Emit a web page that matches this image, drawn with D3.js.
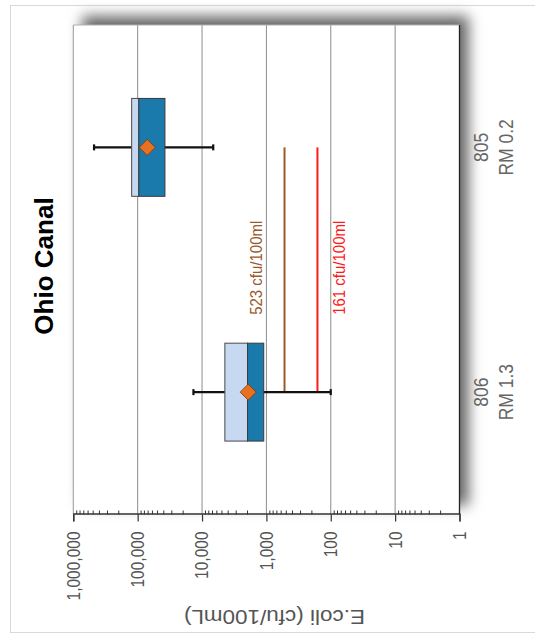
<!DOCTYPE html>
<html>
<head>
<meta charset="utf-8">
<script src="https://cdn.jsdelivr.net/npm/d3@7"></script>
<style>
  body { margin: 0; background: #fff; }
  svg { display: block; font-family: "Liberation Sans", Arial, sans-serif; }
</style>
</head>
<body>
<div id="app"></div>
<script>
// Sites along the x axis (chart is drawn upright, then turned on its side)
const sites = ["806", "805"];
const riverMiles = ["RM 1.3", "RM 0.2"];

// Box plot values, E.coli cfu/100mL
const maxVals = [13600, 476000];
const q3Vals = [4420, 124000];
const medians = [1960, 96000];
const q1Vals = [1100, 37700];
const minVals = [100, 6700];
const means = [1920, 71000];

// Recreation criteria lines
const criteria = [523, 161];
const criteriaLabels = ["523 cfu/100ml", "161 cfu/100ml"];
const criteriaColors = ["#9a5a2c", "#ff1a1a"];

// Axis ticks
const majorTicks = [1, 10, 100, 1000, 10000, 100000, 1000000];

const W = 535, H = 634;

const svg = d3.select("#app")
  .append("svg")
  .attr("width", W)
  .attr("height", H);

// outer frame
svg.append("rect")
  .attr("x", 10.5).attr("y", 5.5)
  .attr("width", W - 10).attr("height", H - 7)
  .attr("fill", "none")
  .attr("stroke", "#d9d9d9");

// drop shadow filter
const defs = svg.append("defs");
const f = defs.append("filter").attr("id", "shadow")
  .attr("x", "-10%").attr("y", "-10%").attr("width", "130%").attr("height", "130%");
f.append("feDropShadow")
  .attr("dx", 9).attr("dy", 9)
  .attr("stdDeviation", 7)
  .attr("flood-color", "#000")
  .attr("flood-opacity", 0.6);

// the whole chart is drawn upright in "inner" space and rotated -90deg
const g = svg.append("g").attr("transform", `translate(0,${H}) rotate(-90)`);

const plot = { left: 119.5, right: 609, top: 73.3, bottom: 459.5 };

const x = d3.scaleBand()
  .domain(sites)
  .range([plot.left, plot.right])
  .padding(0);

const y = d3.scaleLog()
  .domain([1, 1000000])
  .range([plot.bottom, plot.top]);

// plot background with shadow
g.append("rect")
  .attr("x", plot.left).attr("y", plot.top)
  .attr("width", plot.right - plot.left)
  .attr("height", plot.bottom - plot.top)
  .attr("fill", "#fff")
  .attr("filter", "url(#shadow)");

// gridlines
g.append("g")
  .selectAll("line")
  .data(majorTicks.slice(1, -1))
  .join("line")
  .attr("x1", plot.left).attr("x2", plot.right)
  .attr("y1", (d) => y(d)).attr("y2", (d) => y(d))
  .attr("stroke", "#8c8c8c")
  .attr("stroke-width", 1);

// plot border
g.append("line")
  .attr("x1", plot.left).attr("x2", plot.right)
  .attr("y1", plot.top).attr("y2", plot.top)
  .attr("stroke", "#9a9a9a");
g.append("line")
  .attr("x1", plot.right).attr("x2", plot.right)
  .attr("y1", plot.top).attr("y2", plot.bottom)
  .attr("stroke", "#b0b0b0");
g.append("line")
  .attr("x1", plot.left).attr("x2", plot.right)
  .attr("y1", plot.bottom).attr("y2", plot.bottom)
  .attr("stroke", "#222")
  .attr("stroke-width", 1.3);

// minor ticks (inside)
const minorTicks = [];
majorTicks.slice(0, -1).forEach((m) => {
  for (let k = 2; k <= 9; k++) minorTicks.push(m * k);
});

g.append("g")
  .attr("transform", `translate(${plot.left},0)`)
  .call(d3.axisLeft(y).tickValues(minorTicks).tickSize(-4).tickFormat(""))
  .call((a) => a.select(".domain").remove())
  .call((a) => a.selectAll(".tick line").attr("stroke", "#333"));

// major ticks + labels (text a bit stretched, like the source image)
g.append("g")
  .attr("transform", `translate(${plot.left},0)`)
  .call(
    d3.axisLeft(y)
      .tickValues(majorTicks)
      .tickSize(7)
      .tickPadding(10)
      .tickFormat(d3.format(","))
  )
  .call((a) => a.select(".domain").attr("stroke", "#333").attr("stroke-width", 1.3))
  .call((a) => a.selectAll(".tick line").attr("stroke", "#333").attr("stroke-width", 1.2))
  .call((a) =>
    a.selectAll(".tick text")
      .attr("font-size", 15.5)
      .attr("font-family", "Liberation Sans, Arial, sans-serif")
      .attr("fill", "#555")
      .attr("transform", "scale(1,1.2)")
  );

// axis title
g.append("text")
  .attr("transform", `translate(24,${(plot.top + plot.bottom) / 2 + 8}) rotate(-90)`)
  .attr("text-anchor", "middle")
  .attr("font-size", 19.5)
  .attr("textLength", 181)
  .attr("lengthAdjust", "spacingAndGlyphs")
  .attr("fill", "#555")
  .text("E.coli (cfu/100mL)");

// chart title
g.append("text")
  .attr("x", 368).attr("y", 53)
  .attr("text-anchor", "middle")
  .attr("font-size", 26)
  .attr("font-weight", "bold")
  .attr("fill", "#000")
  .text("Ohio Canal");

// category labels
const cats = g.append("g")
  .selectAll("text")
  .data(sites)
  .join("text")
  .attr("transform", (d) => `translate(${x(d) + x.bandwidth() / 2},488) scale(1,1.15)`)
  .attr("text-anchor", "middle")
  .attr("font-size", 17.5)
  .attr("fill", "#666");
cats.append("tspan")
  .attr("x", 0)
  .attr("y", 0)
  .text((d) => d);
cats.append("tspan")
  .attr("x", 0)
  .attr("y", 25 / 1.15)
  .text((d, i) => riverMiles[i]);

// criteria lines, from site 806 center to site 805 center
const cx0 = x(sites[0]) + x.bandwidth() / 2;
const cx1 = x(sites[1]) + x.bandwidth() / 2;

g.append("g")
  .selectAll("line")
  .data(criteria)
  .join("line")
  .attr("x1", cx0).attr("x2", cx1)
  .attr("y1", (d) => y(d)).attr("y2", (d) => y(d))
  .attr("stroke", (d, i) => criteriaColors[i])
  .attr("stroke-width", 2);

const labelY = [262, 345];
g.append("g")
  .selectAll("text")
  .data(criteriaLabels)
  .join("text")
  .attr("transform", (d, i) => `translate(${(cx0 + cx1) / 2 + 2},${labelY[i]}) scale(1,1.15)`)
  .attr("text-anchor", "middle")
  .attr("font-size", 15)
  .attr("fill", (d, i) => criteriaColors[i])
  .text((d) => d);

// box plots
const boxW = x.bandwidth() * 0.4;
const boxes = g.append("g")
  .selectAll("g")
  .data(sites)
  .join("g")
  .attr("transform", (d) => `translate(${x(d) + x.bandwidth() / 2},0)`);

// whiskers
boxes.append("line")
  .attr("x1", 0).attr("x2", 0)
  .attr("y1", (d, i) => y(maxVals[i]))
  .attr("y2", (d, i) => y(minVals[i]))
  .attr("stroke", "#111")
  .attr("stroke-width", 2.2);
boxes.append("line")
  .attr("x1", -3).attr("x2", 3)
  .attr("y1", (d, i) => y(maxVals[i]))
  .attr("y2", (d, i) => y(maxVals[i]))
  .attr("stroke", "#111")
  .attr("stroke-width", 2.2);
boxes.append("line")
  .attr("x1", -3).attr("x2", 3)
  .attr("y1", (d, i) => y(minVals[i]))
  .attr("y2", (d, i) => y(minVals[i]))
  .attr("stroke", "#111")
  .attr("stroke-width", 2.2);

// upper half (Q3 to median)
boxes.append("rect")
  .attr("x", -boxW / 2)
  .attr("width", boxW)
  .attr("y", (d, i) => y(q3Vals[i]))
  .attr("height", (d, i) => y(medians[i]) - y(q3Vals[i]))
  .attr("fill", "#c6d9f1")
  .attr("stroke", "#4a4a4a")
  .attr("stroke-width", 1);

// lower half (median to Q1)
boxes.append("rect")
  .attr("x", -boxW / 2)
  .attr("width", boxW)
  .attr("y", (d, i) => y(medians[i]))
  .attr("height", (d, i) => y(q1Vals[i]) - y(medians[i]))
  .attr("fill", "#1a7aab")
  .attr("stroke", "#3a3a3a")
  .attr("stroke-width", 1);

// mean diamond
boxes.append("path")
  .attr("d", (d, i) => {
    const my = y(means[i]);
    const r = 8;
    return `M0,${my - r}L${r},${my}L0,${my + r}L${-r},${my}Z`;
  })
  .attr("fill", "#e8701e")
  .attr("stroke", "#7a3a10")
  .attr("stroke-width", 0.8);
</script>
</body>
</html>
